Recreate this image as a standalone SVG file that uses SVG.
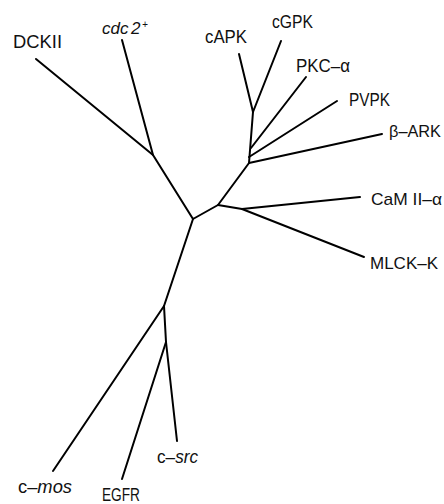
<svg xmlns="http://www.w3.org/2000/svg" width="444" height="504" viewBox="0 0 444 504">
<style>
.e{stroke:#000;stroke-width:2;fill:none;stroke-linecap:round;stroke-linejoin:round}
.t{font-family:"Liberation Sans",Arial,sans-serif;font-size:19px;fill:#111}
.s{font-size:17px}
.i{font-style:italic}
</style>
<rect width="444" height="504" fill="#fff"/>
<g id="connectors">
<path class="e" d="M36,59 L153,155 L193,219 L218,205 L249,163 L253,112"/>
<path class="e" d="M122,40 L153,155"/>
<path class="e" d="M239,54 L253,112 L281,41"/>
<path class="e" d="M306,77 L251,148"/>
<path class="e" d="M337,101 L249,157"/>
<path class="e" d="M382,134 L249,163"/>
<path class="e" d="M218,205 L242,209 L360,197"/>
<path class="e" d="M242,209 L364,257"/>
<path class="e" d="M193,219 L164,306 L53,471"/>
<path class="e" d="M164,306 L166,342 L122,479"/>
<path class="e" d="M166,342 L177,441"/>
</g>
<g id="DCKII"><text class="t" x="13" y="48" textLength="49" lengthAdjust="spacingAndGlyphs">DCKII</text></g>
<g id="cdc2"><text class="t i" x="102" y="34" style="font-size:17px">cdc<tspan x="131">2</tspan><tspan x="142" dy="-6" style="font-size:10px">+</tspan></text></g>
<g id="cAPK"><text class="t" x="205" y="43" textLength="42" lengthAdjust="spacingAndGlyphs">cAPK</text></g>
<g id="cGPK"><text class="t" x="272" y="28" textLength="41" lengthAdjust="spacingAndGlyphs">cGPK</text></g>
<g id="PKC-alpha"><text class="t" x="296" y="72" textLength="54" lengthAdjust="spacingAndGlyphs">PKC–α</text></g>
<g id="PVPK"><text class="t" x="349" y="106" textLength="41" lengthAdjust="spacingAndGlyphs">PVPK</text></g>
<g id="beta-ARK"><text class="t s" x="389" y="137" textLength="52" lengthAdjust="spacingAndGlyphs">β–ARK</text></g>
<g id="CaMII-alpha"><text class="t s" x="371" y="205" textLength="71" lengthAdjust="spacingAndGlyphs">CaM II–α</text></g>
<g id="MLCK-K"><text class="t s" x="370" y="269" textLength="68" lengthAdjust="spacingAndGlyphs">MLCK–K</text></g>
<g id="c-mos"><text class="t" x="18" y="493" textLength="54" lengthAdjust="spacingAndGlyphs">c–<tspan class="i">mos</tspan></text></g>
<g id="EGFR"><text class="t" x="102" y="501" textLength="38" lengthAdjust="spacingAndGlyphs">EGFR</text></g>
<g id="c-src"><text class="t" x="157" y="463" textLength="41" lengthAdjust="spacingAndGlyphs">c–<tspan class="i">src</tspan></text></g>
</svg>
